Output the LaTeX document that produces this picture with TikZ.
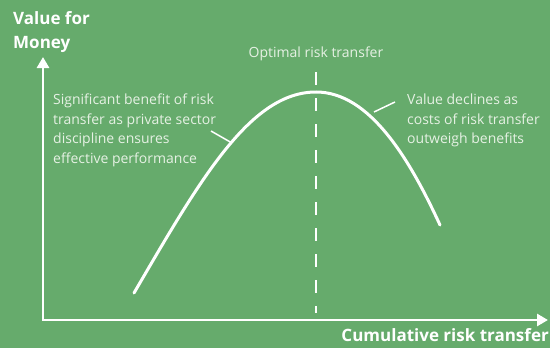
\documentclass[tikz,border=0pt]{standalone}
\usepackage{fontspec}
\setmainfont{Open Sans}
\usetikzlibrary{arrows.meta}
\definecolor{bggreen}{RGB}{102,171,108}
\definecolor{softtext}{RGB}{230,241,228}
\begin{document}
\begin{tikzpicture}[x=1pt,y=-1pt,
  axis/.style={draw=white,line width=2.8pt,{Triangle[width=12pt,length=11pt]}-{Triangle[width=12pt,length=11pt]}},
  curveline/.style={draw=white,line width=3pt,line cap=round},
  guide/.style={draw=white,line width=2pt,dash pattern=on 13pt off 13pt},
  leader/.style={draw=white,line width=1.5pt},
  axislabel/.style={text=white,font=\fontsize{17}{24}\selectfont\bfseries,inner sep=0pt,align=left},
  note/.style={text=softtext,font=\fontsize{14}{19.5}\selectfont,inner sep=0pt,align=left}]
\fill[bggreen] (0,0) rectangle (550,348);
\useasboundingbox (0,0) rectangle (550,348);
\coordinate (ytop) at (43,57);
\coordinate (origin) at (43,320);
\coordinate (xend) at (548,320);
\draw[axis] (ytop) -- (origin) -- (xend);
\coordinate (cstart) at (134,293);
\coordinate (peak) at (316,92);
\coordinate (cend) at (440,225);
\draw[curveline] (cstart) .. controls (200,180) and (250,92) .. (peak)
  .. controls (370,92) and (410,160) .. (cend);
\coordinate (dtop) at (316,72);
\coordinate (dbot) at (316,313);
\draw[guide] (dtop) -- (dbot);
\coordinate (l1a) at (211,131);
\coordinate (l1b) at (232,143);
\draw[leader] (l1a) -- (l1b);
\coordinate (l2a) at (374,112);
\coordinate (l2b) at (395,102);
\draw[leader] (l2a) -- (l2b);
\node[axislabel,anchor=north west] (vfm) at (13,11.5) {Value for\\Money};
\node[axislabel,anchor=north east] (crt) at (549,328) {Cumulative risk transfer};
\node[note,anchor=north] (opt) at (316,47) {Optimal risk transfer};
\node[note,anchor=north west] (left) at (53,94) {Significant benefit of risk\\transfer as private sector\\discipline ensures\\effective performance};
\node[note,anchor=north west] (right) at (407,94) {Value declines as\\costs of risk transfer\\outweigh benefits};
\end{tikzpicture}
\end{document}
